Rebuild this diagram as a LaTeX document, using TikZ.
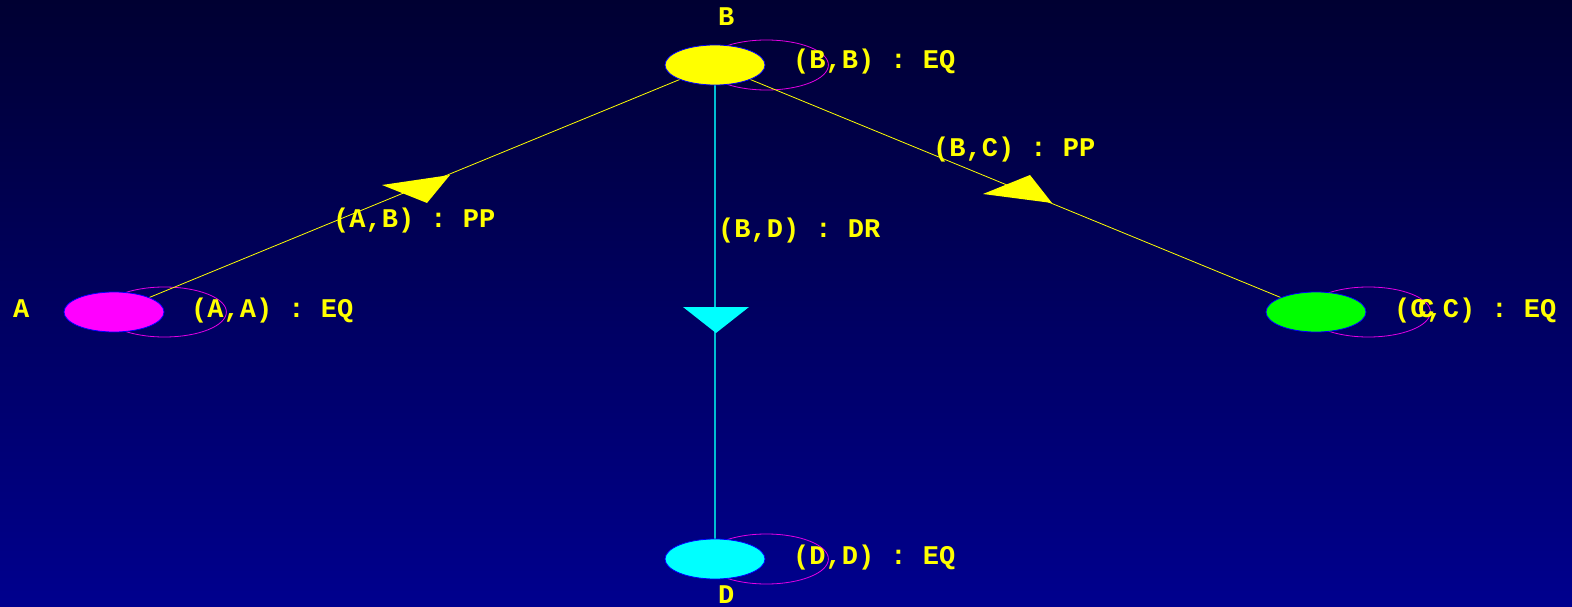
\documentclass[tikz,border=0pt]{standalone}
\usepackage{fontspec}
\setmonofont{Liberation Mono}
\usetikzlibrary{shapes.geometric,calc}
\pgfdeclarelayer{shadelayer}
\pgfdeclarelayer{edgelayer}
\pgfsetlayers{shadelayer,edgelayer,main}
\definecolor{bgtop}{RGB}{0,0,50}
\definecolor{bgbot}{RGB}{0,0,142}
\definecolor{nodeborder}{RGB}{0,0,255}
\definecolor{loopcol}{RGB}{230,0,230}
\definecolor{drcol}{RGB}{0,190,210}
\definecolor{yel}{RGB}{255,255,0}
\definecolor{mag}{RGB}{255,0,255}
\definecolor{grn}{RGB}{0,255,0}
\definecolor{cyn}{RGB}{0,255,255}
\begin{document}
\begin{tikzpicture}[x=1pt,y=-1pt,
  vert/.style={ellipse, draw=nodeborder, line width=0.8pt, minimum width=100pt, minimum height=40pt, inner sep=0pt},
  lbl/.style={text=yel, font=\ttfamily\bfseries\fontsize{27}{27}\selectfont, inner sep=0pt, anchor=base west},
  loope/.style={draw=loopcol, line width=0.8pt},
  ppedge/.style={draw=yel, line width=0.8pt},
  dredge/.style={draw=drcol, line width=1.2pt},
  pphead/.style={fill=yel},
  drhead/.style={fill=cyn}]
\useasboundingbox (0,0) rectangle (1572,607);
\begin{pgfonlayer}{shadelayer}
\shade[top color=bgtop, bottom color=bgbot] (0,0) rectangle (1572,607);
\end{pgfonlayer}

% vertices
\node[vert, fill=yel] (B) at (715,65) {};
\node[vert, fill=mag] (A) at (114,312) {};
\node[vert, fill=grn] (C) at (1316,312) {};
\node[vert, fill=cyn] (D) at (715,559) {};

\begin{pgfonlayer}{edgelayer}
% self loops
\draw[loope] ($(B.east)+(1,0)$) ellipse [x radius=62, y radius=25];
\draw[loope] ($(A.east)+(0,0)$) ellipse [x radius=62, y radius=25];
\draw[loope] ($(C.east)+(2,0)$) ellipse [x radius=62, y radius=25];
\draw[loope] ($(D.east)+(1,0)$) ellipse [x radius=62, y radius=25];
% edges
\draw[ppedge] (A) -- (B);
\draw[ppedge] (B) -- (C);
\draw[dredge] (B) -- (D);
\end{pgfonlayer}

% arrow heads
\fill[pphead] (450,175) -- (382,185) -- (427,203) -- cycle;
\fill[pphead] (1052,203) -- (983,194) -- (1030,175) -- cycle;
\fill[drhead] (683,307) -- (749,307) -- (716,333) -- cycle;

% vertex names
\node[lbl] (Bname) at (718,26) {B};
\node[lbl] (Aname) at (13,317) {A};
\node[lbl] (Dname) at (718,603) {D};

% loop labels
\node[lbl] (BBl) at (793,69) {(B,B) : EQ};
\node[lbl] (AAl) at (191,317) {(A,A) : EQ};
\node[lbl] (DDl) at (793,564) {(D,D) : EQ};
\node[lbl] (CCl) at (1394,317) {(C,C) : EQ};
\node[lbl] (Cname) at (1418,317) {C};

% edge labels
\node[lbl] (ABl) at (333,227) {(A,B) : PP};
\node[lbl] (BCl) at (933,157) {(B,C) : PP};
\node[lbl] (BDl) at (718,237) {(B,D) : DR};
\end{tikzpicture}
\end{document}
